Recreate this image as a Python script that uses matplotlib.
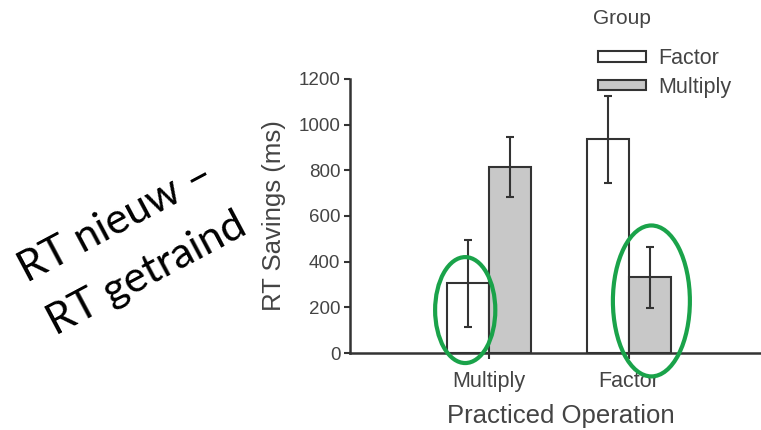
import numpy as np
import matplotlib.pyplot as plt
from matplotlib.patches import Patch, Ellipse

plt.rcParams['font.family'] = ['Liberation Sans', 'DejaVu Sans']

operations = ['Multiply', 'Factor']
groups = ['Factor', 'Multiply']
means = {'Factor': [305, 936], 'Multiply': [816, 331]}
errs = {'Factor': [192, 191], 'Multiply': [132, 132]}
bar_colors = {'Factor': 'white', 'Multiply': '#c8c8c8'}

# green highlight rings: (operation index, group offset, y centre, width, height)
rings = [(0, -0.17, 188, 0.43, 464), (1, 0.16, 228, 0.55, 661)]

ink = '#333333'
fig = plt.figure(figsize=(7.61, 4.30), dpi=100)
ax = fig.add_axes([350/761, 77/430, 411/761, 274/430])

x = np.arange(len(operations))
w = 0.3
for i, g in enumerate(groups):
    pos = x + (i - 0.5) * w
    ax.bar(pos, means[g], width=w, color=bar_colors[g], edgecolor=ink,
           linewidth=1.5, label=g, zorder=2)
    ax.errorbar(pos, means[g], yerr=errs[g], fmt='none', ecolor=ink,
                elinewidth=1.5, capsize=3, capthick=1.5, zorder=3)

for op, dx, yc, ew, eh in rings:
    ax.add_patch(Ellipse((x[op] + dx, yc), ew, eh, fill=False,
                         edgecolor='#1aa34a', linewidth=3, clip_on=False, zorder=4))

ax.set_xlim(-0.993, 1.943)
ax.set_ylim(0, 1200)
ax.set_yticks(np.arange(0, 1201, 200))
ax.set_xticks(x)
ax.set_xticklabels(operations, fontsize=15.5, color='#444444')
ax.tick_params(axis='y', labelsize=13.5, labelcolor='#444444', color=ink,
               length=4, width=1.5, direction='out', pad=3)
ax.tick_params(axis='x', color=ink, length=4, width=1.5, pad=9)
for s in ['top', 'right']:
    ax.spines[s].set_visible(False)
for s in ['left', 'bottom']:
    ax.spines[s].set_color(ink)
    ax.spines[s].set_linewidth(1.8)

ax.set_ylabel('RT Savings (ms)', fontsize=18.5, color='#444444')
ax.yaxis.set_label_coords((286 - 350) / 411, 0.5)
ax.set_xlabel('Practiced Operation', fontsize=18.5, color='#444444')
ax.xaxis.set_label_coords((561 - 350) / 411, -(404 - 353) / 274)

handles = [Patch(facecolor=bar_colors[g], edgecolor=ink, linewidth=1.5) for g in groups]
fig.legend(handles, groups, loc='upper left', bbox_to_anchor=(598/761, 1 - 48/430),
           frameon=False, fontsize=15.5, handlelength=2.25, handleheight=0.38,
           handletextpad=0.55, labelspacing=0.35, borderpad=0, borderaxespad=0,
           labelcolor='#444444')
fig.text(593/761, 1 - 19/430, 'Group', fontsize=15, color='#444444',
         ha='left', va='center')

fig.text(116/761, 1 - 222/430, 'RT nieuw \u2013', fontsize=31, rotation=28,
         ha='center', va='center', family=['Lato', 'DejaVu Sans'], rotation_mode='anchor')
fig.text(147/761, 1 - 274/430, 'RT getraind', fontsize=31, rotation=28,
         ha='center', va='center', family=['Lato', 'DejaVu Sans'], rotation_mode='anchor')

fig.savefig('out.png', dpi=100)
